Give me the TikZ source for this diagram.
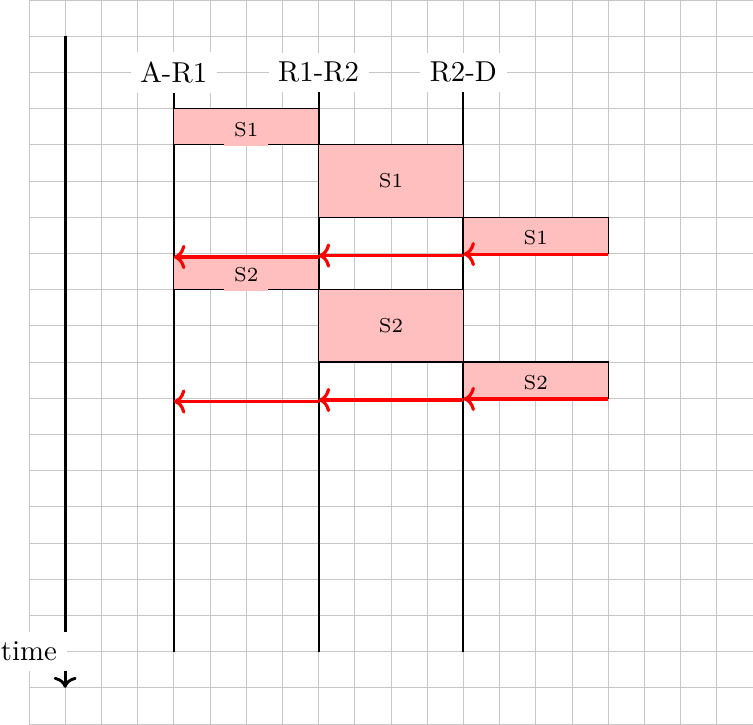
\documentclass[tikz,border=0pt]{standalone}
\usetikzlibrary{arrows.meta}
\begin{document}
\begin{tikzpicture}[x=0.884cm,y=0.884cm,
  gridline/.style={gray!45,line width=0.25pt},
  lifeline/.style={line width=0.7pt,black},
  timeaxis/.style={line width=1pt,black,->},
  seg/.style={draw=black,fill=red!25},
  seglabel/.style={font=\scriptsize,fill=red!25},
  ack/.style={line width=1.1pt,red,->},
  hdr/.style={fill=white}]
\useasboundingbox (-0.4,0) rectangle (10,10);
\draw[gridline] (0,0) grid[step=0.5] (10,10);
% time axis
\coordinate (t0) at (0.5,9.5);
\coordinate (t1) at (0.5,0.5);
\draw[timeaxis] (t0) -- (t1);
\node[hdr] (time) at (0,1) {time};
% lifelines
\coordinate (l1b) at (2,1);
\coordinate (l2b) at (4,1);
\coordinate (l3b) at (6,1);
\draw[lifeline] (2,9) -- (l1b);
\draw[lifeline] (4,9) -- (l2b);
\draw[lifeline] (6,9) -- (l3b);
\node[hdr] (h1) at (2,9) {A-R1};
\node[hdr] (h2) at (4,9) {R1-R2};
\node[hdr] (h3) at (6,9) {R2-D};
% S1 segments
\draw[seg] (2,8) rectangle (4,8.5);
\draw[seg] (4,7) rectangle (6,8);
\draw[seg] (6,6.5) rectangle (8,7);
\node[seglabel,anchor=south] (s1a) at ([yshift=-0.7pt]3,8) {S1};
\node[seglabel] (s1b) at (5,7.5) {S1};
\node[seglabel,anchor=south] (s1c) at ([yshift=-0.7pt]7,6.5) {S1};
% S2 segments
\draw[seg] (2,6) rectangle (4,6.45);
\draw[seg] (4,5) rectangle (6,6);
\draw[seg] (6,4.5) rectangle (8,5);
\node[seglabel,anchor=south] (s2a) at ([yshift=-0.7pt]3,6) {S2};
\node[seglabel] (s2b) at (5,5.5) {S2};
\node[seglabel,anchor=south] (s2c) at ([yshift=-0.7pt]7,4.5) {S2};
% acknowledgements for S1
\coordinate (a1r) at (8,6.49);
\coordinate (a1m) at (6,6.49);
\coordinate (a1m2) at (6,6.47);
\coordinate (a1l) at (4,6.47);
\coordinate (a1l2) at (4,6.45);
\coordinate (a1e) at (2,6.45);
\draw[ack] (a1r) -- (a1m);
\draw[ack] (a1m2) -- (a1l);
\draw[ack] (a1l2) -- (a1e);
% acknowledgements for S2
\coordinate (a2r) at (8,4.49);
\coordinate (a2m) at (6,4.49);
\coordinate (a2m2) at (6,4.475);
\coordinate (a2l) at (4,4.475);
\coordinate (a2l2) at (4,4.455);
\coordinate (a2e) at (2,4.455);
\draw[ack] (a2r) -- (a2m);
\draw[ack] (a2m2) -- (a2l);
\draw[ack] (a2l2) -- (a2e);
\end{tikzpicture}
\end{document}
